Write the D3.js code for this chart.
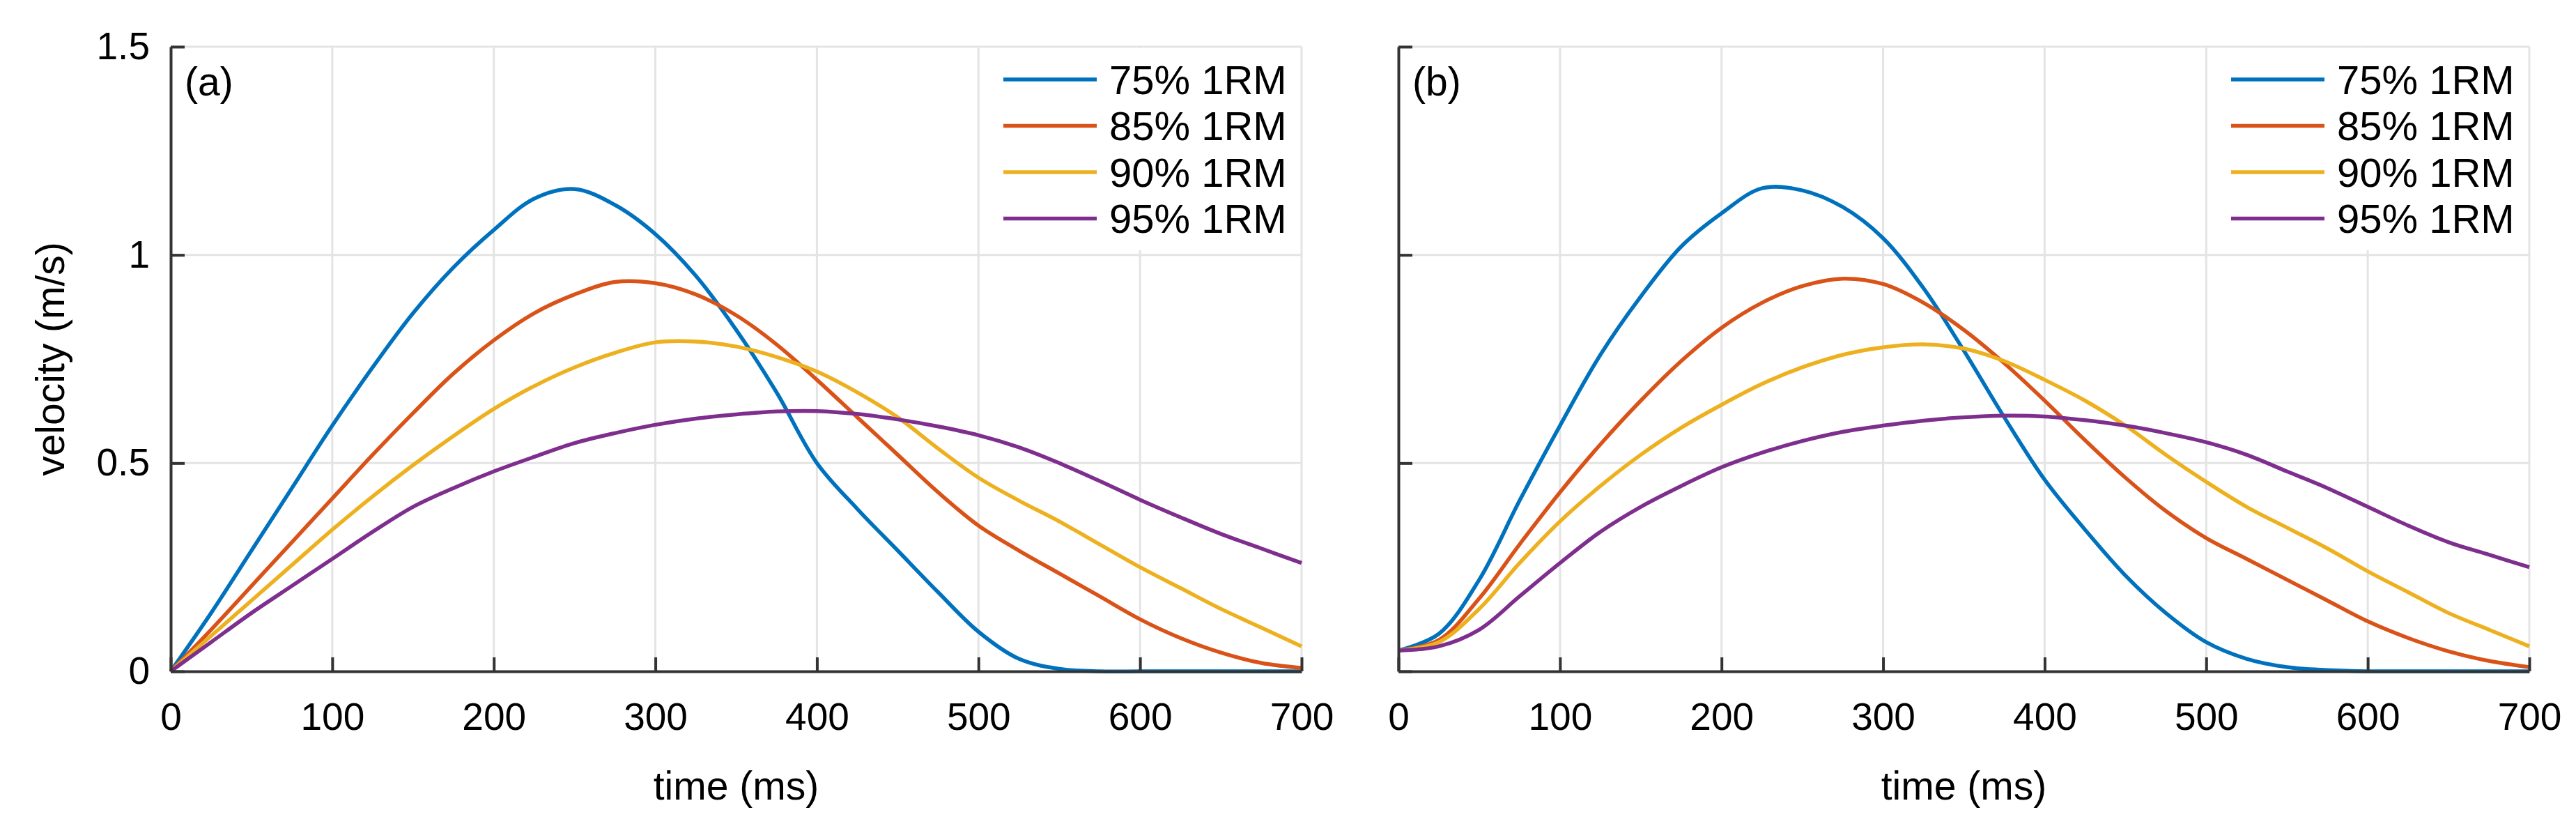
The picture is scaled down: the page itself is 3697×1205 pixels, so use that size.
<!DOCTYPE html>
<html>
<head>
<meta charset="utf-8">
<script src="https://cdn.jsdelivr.net/npm/d3@7"></script>
<style>
  body { margin: 0; background: #fff; }
  svg { display: block; }
  text { font-family: "Liberation Sans", Arial, sans-serif; fill: #000; }
</style>
</head>
<body>
<div id="chart"></div>
<script>
// time grid (ms), shared by every series
const times = d3.range(0, 701, 25);

const seriesNames = ["75% 1RM", "85% 1RM", "90% 1RM", "95% 1RM"];
const seriesColors = ["#0072BD", "#D95319", "#EDB120", "#7E2F8E"];

const xTicks = [0, 100, 200, 300, 400, 500, 600, 700];
const yTicks = [0, 0.5, 1, 1.5];

// panel (a)
const a75 = [0, 0.14, 0.29, 0.44, 0.59, 0.73, 0.86, 0.97, 1.06, 1.135, 1.158, 1.12, 1.05, 0.95, 0.82, 0.67, 0.50, 0.39, 0.29, 0.19, 0.095, 0.03, 0.006, 0, 0, 0, 0, 0, 0];
const a85 = [0, 0.10, 0.205, 0.31, 0.415, 0.52, 0.62, 0.715, 0.795, 0.86, 0.905, 0.935, 0.932, 0.905, 0.855, 0.785, 0.70, 0.61, 0.52, 0.43, 0.35, 0.29, 0.235, 0.18, 0.125, 0.08, 0.045, 0.02, 0.008];
const a90 = [0, 0.085, 0.17, 0.255, 0.34, 0.42, 0.495, 0.565, 0.63, 0.685, 0.73, 0.765, 0.79, 0.792, 0.78, 0.755, 0.72, 0.67, 0.61, 0.535, 0.465, 0.41, 0.36, 0.305, 0.25, 0.20, 0.15, 0.105, 0.06];
const a95 = [0, 0.07, 0.14, 0.205, 0.27, 0.335, 0.395, 0.44, 0.48, 0.515, 0.548, 0.572, 0.592, 0.607, 0.617, 0.624, 0.625, 0.618, 0.605, 0.588, 0.567, 0.538, 0.50, 0.457, 0.412, 0.37, 0.33, 0.295, 0.26];

// panel (b)
const b75 = [0.05, 0.09, 0.22, 0.41, 0.59, 0.76, 0.90, 1.02, 1.10, 1.16, 1.155, 1.115, 1.04, 0.92, 0.77, 0.61, 0.46, 0.34, 0.23, 0.14, 0.07, 0.03, 0.01, 0.003, 0, 0, 0, 0, 0];
const b85 = [0.05, 0.075, 0.175, 0.305, 0.43, 0.545, 0.65, 0.745, 0.825, 0.885, 0.925, 0.943, 0.93, 0.885, 0.82, 0.74, 0.65, 0.555, 0.465, 0.385, 0.32, 0.27, 0.22, 0.17, 0.12, 0.08, 0.048, 0.025, 0.01];
const b90 = [0.05, 0.07, 0.15, 0.26, 0.36, 0.445, 0.52, 0.585, 0.64, 0.69, 0.73, 0.76, 0.778, 0.785, 0.775, 0.745, 0.70, 0.65, 0.59, 0.52, 0.455, 0.395, 0.345, 0.295, 0.24, 0.19, 0.14, 0.10, 0.06];
const b95 = [0.05, 0.06, 0.10, 0.18, 0.26, 0.335, 0.395, 0.445, 0.49, 0.525, 0.553, 0.575, 0.59, 0.602, 0.61, 0.614, 0.612, 0.603, 0.59, 0.572, 0.55, 0.52, 0.48, 0.44, 0.395, 0.35, 0.31, 0.28, 0.25];

const panels = [
  { label: "(a)", left: 245, series: [a75, a85, a90, a95], yLabels: true },
  { label: "(b)", left: 2007, series: [b75, b85, b90, b95], yLabels: false }
];

const W = 3697, H = 1205;
const plotW = 1623, plotTop = 67, plotBottom = 963;

const svg = d3.select("#chart").append("svg")
  .attr("width", W)
  .attr("height", H);

const y = d3.scaleLinear().domain([0, 1.5]).range([plotBottom, plotTop]);

panels.forEach(p => {
  const x = d3.scaleLinear().domain([0, 700]).range([p.left, p.left + plotW]);
  const g = svg.append("g");

  // grid
  g.append("g").selectAll("line")
    .data(xTicks.slice(1))
    .join("line")
    .attr("x1", d => x(d)).attr("x2", d => x(d))
    .attr("y1", plotTop).attr("y2", plotBottom)
    .attr("stroke", "#e4e4e4").attr("stroke-width", 3);
  g.append("g").selectAll("line")
    .data(yTicks.slice(1))
    .join("line")
    .attr("x1", p.left).attr("x2", p.left + plotW)
    .attr("y1", d => y(d)).attr("y2", d => y(d))
    .attr("stroke", "#e4e4e4").attr("stroke-width", 3);

  // curves
  const line = d3.line()
    .x((d, i) => x(times[i]))
    .y(d => y(d))
    .curve(d3.curveCatmullRom.alpha(0.5));

  g.append("g").selectAll("path")
    .data(p.series)
    .join("path")
    .attr("d", d => line(d))
    .attr("fill", "none")
    .attr("stroke", (d, i) => seriesColors[i])
    .attr("stroke-width", 5.5)
    .attr("stroke-linejoin", "round");

  // axes (inward ticks)
  const xAxis = g.append("g")
    .attr("transform", `translate(0,${plotBottom})`)
    .call(d3.axisBottom(x).tickValues(xTicks).tickSize(-20).tickPadding(45).tickSizeOuter(0));
  const yAxis = g.append("g")
    .attr("transform", `translate(${p.left},0)`)
    .call(d3.axisLeft(y).tickValues(yTicks).tickSize(-20).tickPadding(30).tickSizeOuter(0)
      .tickFormat(p.yLabels ? d3.format("") : () => ""));

  [xAxis, yAxis].forEach(ax => {
    ax.select(".domain").attr("stroke", "#333").attr("stroke-width", 4);
    ax.selectAll(".tick line").attr("stroke", "#333").attr("stroke-width", 4);
    ax.selectAll(".tick text").attr("font-size", 55).attr("fill", "#000")
      .attr("font-family", "'Liberation Sans', Arial, sans-serif");
  });
  xAxis.selectAll(".tick text").attr("dy", "0.71em");

  // x label
  g.append("text")
    .attr("x", p.left + plotW / 2)
    .attr("y", 1147)
    .attr("text-anchor", "middle")
    .attr("font-size", 57)
    .text("time (ms)");

  // panel label
  g.append("text")
    .attr("x", p.left + 20)
    .attr("y", 137)
    .attr("font-size", 57)
    .text(p.label);

  // legend
  const legX = p.left + plotW - 428;
  g.append("rect")
    .attr("x", legX - 15).attr("y", plotTop + 2)
    .attr("width", p.left + plotW - legX + 13).attr("height", 290)
    .attr("fill", "#fff");
  const items = g.append("g").selectAll("g")
    .data(seriesNames)
    .join("g")
    .attr("transform", (d, i) => `translate(${legX},${114 + i * 66.5})`);
  items.append("line")
    .attr("x1", 0).attr("x2", 134)
    .attr("stroke", (d, i) => seriesColors[i])
    .attr("stroke-width", 5.5);
  items.append("text")
    .attr("x", 152)
    .attr("dy", "0.36em")
    .attr("font-size", 58)
    .text(d => d);
});

// y label
svg.append("text")
  .attr("transform", `translate(92,${(plotTop + plotBottom) / 2}) rotate(-90)`)
  .attr("text-anchor", "middle")
  .attr("font-size", 57)
  .text("velocity (m/s)");
</script>
</body>
</html>
